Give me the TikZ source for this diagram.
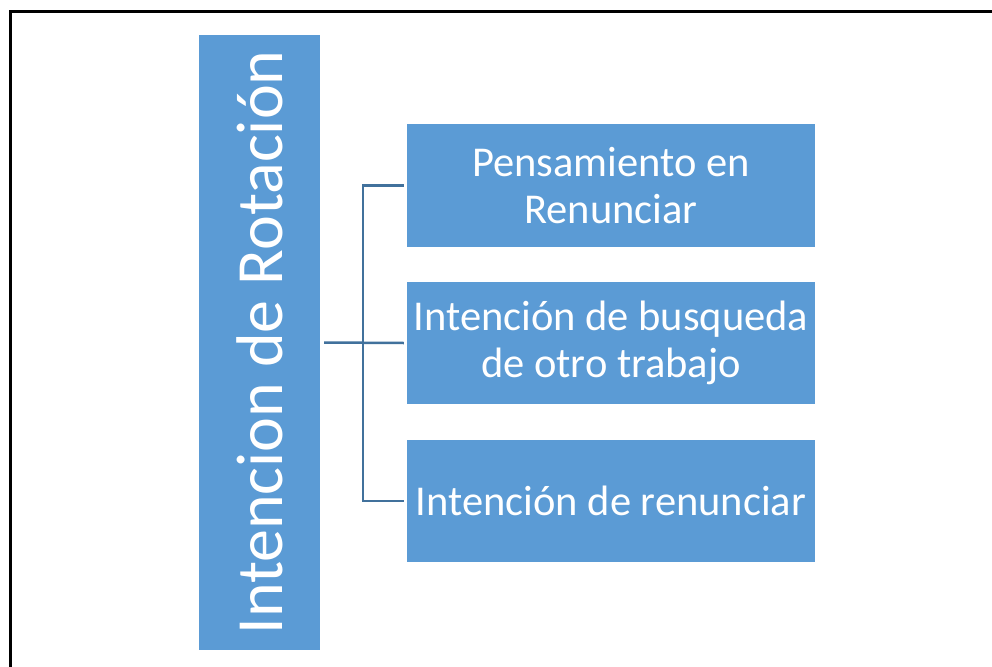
\documentclass[tikz,border=0pt]{standalone}
\usepackage{fontspec}
\setmainfont{Carlito}
\definecolor{boxblue}{HTML}{5B9BD5}
\definecolor{connblue}{HTML}{41719C}
\tikzset{
  bluebox/.style={fill=boxblue, draw=none, inner sep=0pt, text=white, align=center},
  rightbox/.style={bluebox, minimum width=408pt, minimum height=122.5pt,
    font=\fontsize{42.5pt}{47pt}\selectfont},
  conn/.style={draw=connblue, line width=2.5pt}
}
\begin{document}
\begin{tikzpicture}[x=1pt,y=-1pt]
\useasboundingbox (0,0) rectangle (992,666);
\fill[white] (0,0) rectangle (992,666);
\draw[line width=3pt] (10,700) -- (10,12) -- (1010,12);

\node[bluebox, minimum width=121pt, minimum height=615pt] (lb) at (259.5,342.5) {};
\node[text=white, rotate=90, font=\fontsize{66pt}{72pt}\selectfont, inner sep=0pt] (lt) at (259.5,342.5) {Intencion de Rotación};

\node[rightbox] (b1) at (611,185.5) {Pensamiento en\\Renunciar};
\node[rightbox] (b2) at (611,343) {Intención de busqueda\\de otro trabajo};
\node[rightbox] (b3) at (611,501) {Intención de renunciar};

\coordinate (jn) at (363,343);
\draw[conn] ([xshift=4pt]lb.east) -- ([xshift=-3pt]b2.west);
\draw[conn] ([xshift=-3pt]b1.west) -| (jn) |- ([xshift=-3pt]b3.west);
\end{tikzpicture}
\end{document}
